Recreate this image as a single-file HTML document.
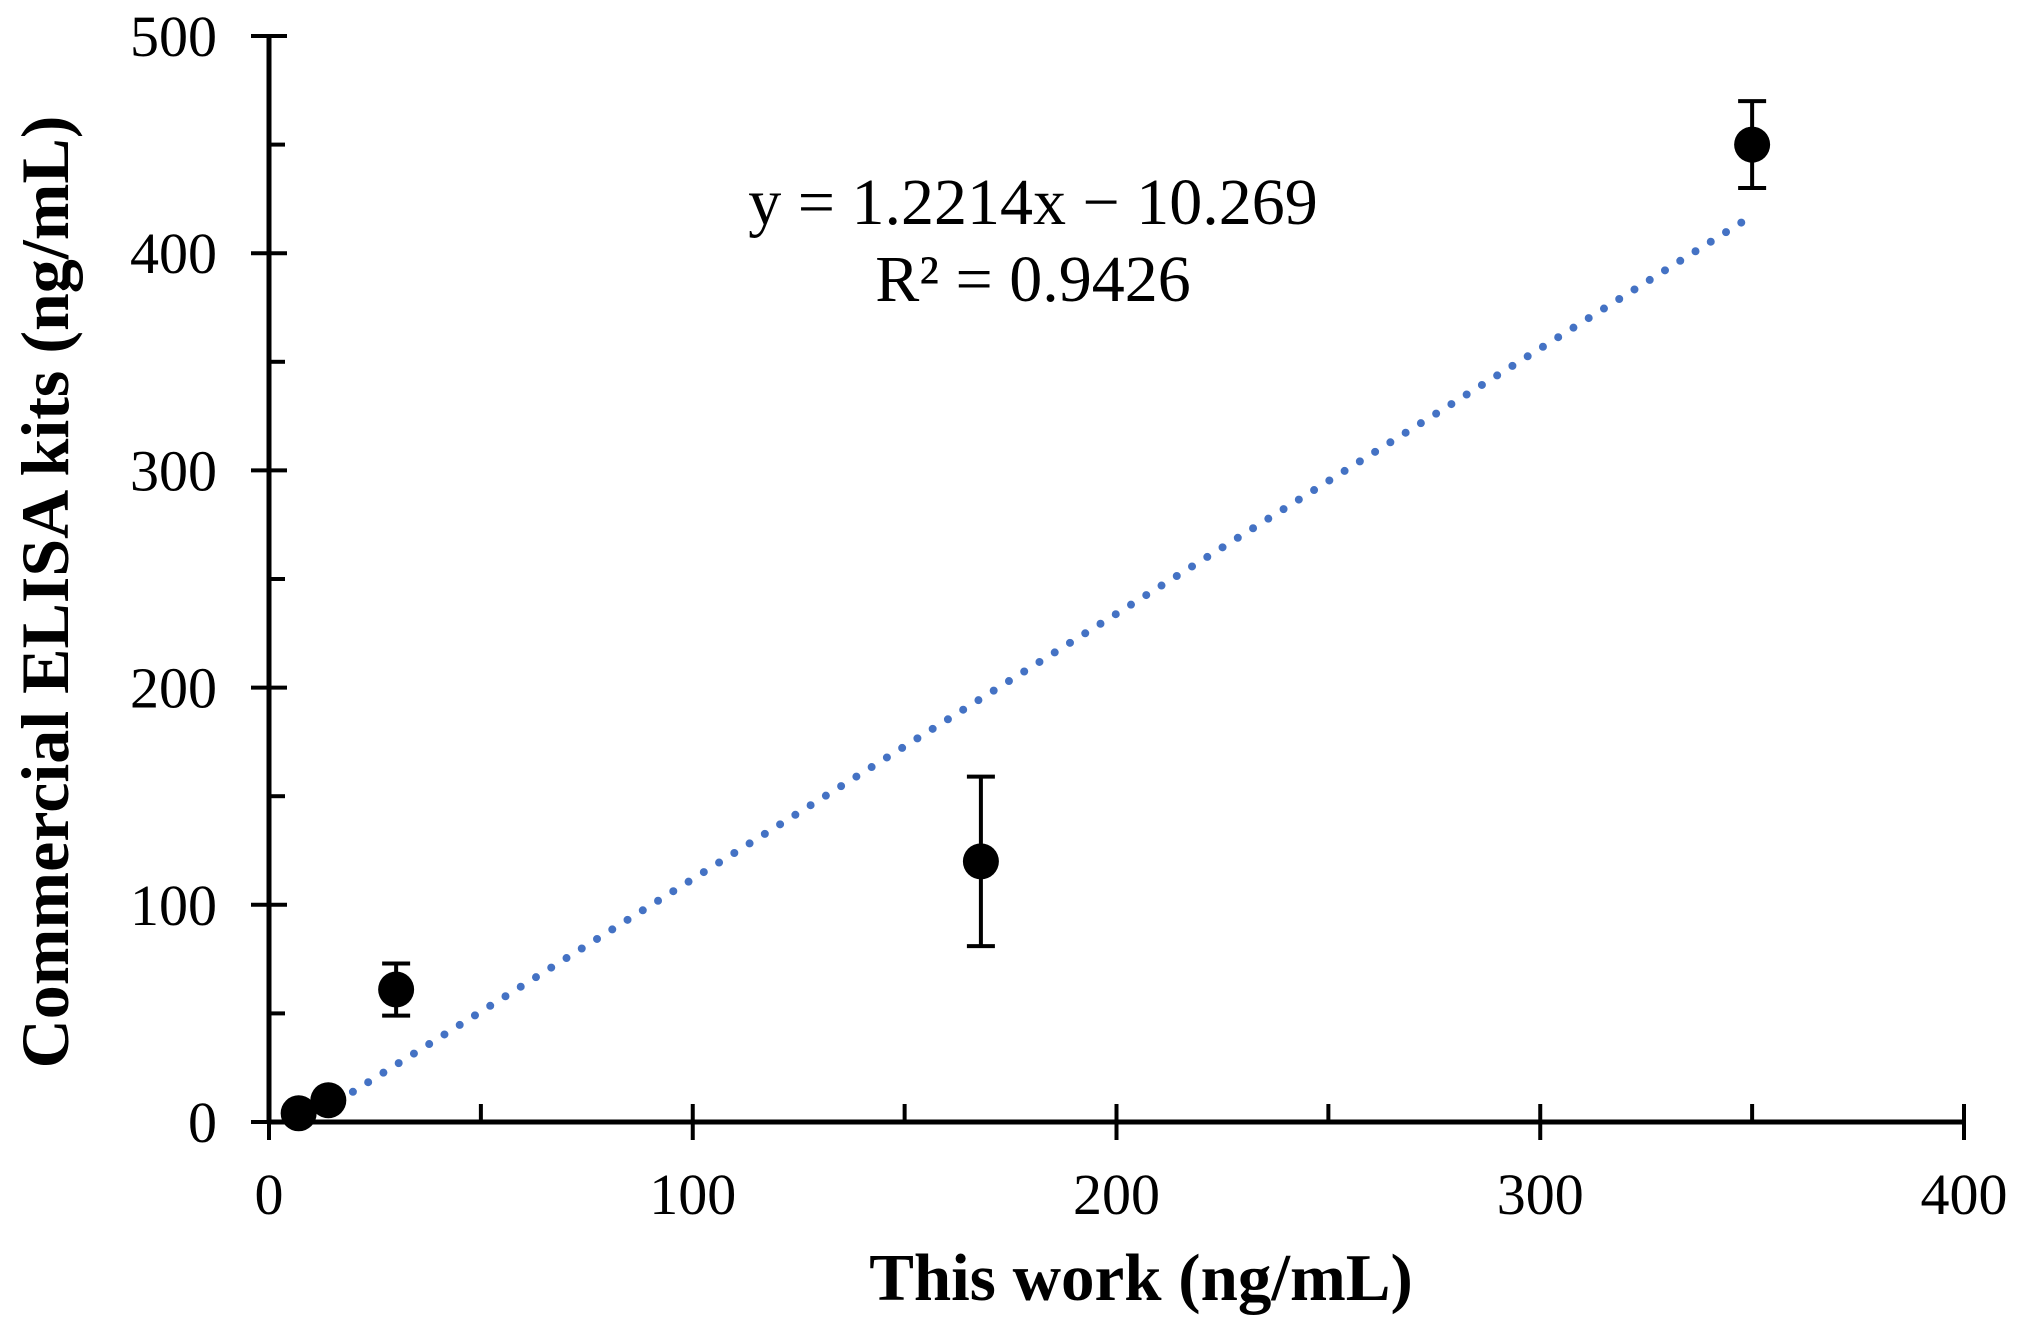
<!DOCTYPE html>
<html><head><meta charset="utf-8"><style>
html,body{margin:0;padding:0;background:#fff}
svg{display:block;font-family:"Liberation Serif",serif}
</style></head><body>
<svg width="2020" height="1326" viewBox="0 0 2020 1326">
<g id="plot"></g>
</svg>
<script>
const xTicks=[0,100,200,300,400];
const yTicks=[0,100,200,300,400,500];
const xs=[7,14,30,168,350];
const ys=[4,10,61,120,450];
const errs=[0,0,12,39,20];
const slope=[1.2214];
const intercept=[-10.269];
const fitRange=[9,350];
const X0=269,X1=1964,Y0=1122,Y1=36;
const sx=v=>X0+(v-0)/400*(X1-X0);
const sy=v=>Y0-(v-0)/500*(Y0-Y1);
const NS="http://www.w3.org/2000/svg";
const g=document.getElementById('plot');
function mk(t,a,txt){const e=document.createElementNS(NS,t);for(const k in a)e.setAttribute(k,a[k]);if(txt!==undefined)e.textContent=txt;g.appendChild(e);return e;}
let tl=mk('line',{x1:sx(fitRange[0]),y1:sy(slope[0]*fitRange[0]+intercept[0]),x2:sx(fitRange[1]),y2:sy(slope[0]*fitRange[1]+intercept[0]),stroke:'#4472C4','stroke-width':8,'stroke-linecap':'round','stroke-dasharray':'0 18'});


let ax=mk('line',{x1:X0,y1:Y0,x2:X1,y2:Y0,stroke:'#000','stroke-width':5});


let ay=mk('line',{x1:X0,y1:Y0+2,x2:X0,y2:Y1,stroke:'#000','stroke-width':5});


xTicks.forEach((v,i)=>{
 let t=mk('line',{x1:sx(v),y1:Y0-18,x2:sx(v),y2:Y0+18,stroke:'#000','stroke-width':4});
 
 
 let l=mk('text',{x:sx(v),y:Y0+92,'text-anchor':'middle','font-size':58},String(v));
 
 
 if(i<xTicks.length-1){let m=mk('line',{x1:sx(v+50),y1:Y0-18,x2:sx(v+50),y2:Y0,stroke:'#000','stroke-width':4});
 
 }
});
yTicks.forEach((v,i)=>{
 let t=mk('line',{x1:X0-18,y1:sy(v),x2:X0+18,y2:sy(v),stroke:'#000','stroke-width':4});
 
 
 let l=mk('text',{x:X0-52,y:sy(v)+20,'text-anchor':'end','font-size':58},String(v));
 
 
 if(i<yTicks.length-1){let m=mk('line',{x1:X0,y1:sy(v+50),x2:X0+16,y2:sy(v+50),stroke:'#000','stroke-width':4});
 
 }
});
xs.forEach((x,i)=>{
 if(errs[i]>0){
  let e=mk('path',{d:`M${sx(x)} ${sy(ys[i]-errs[i])}V${sy(ys[i]+errs[i])}M${sx(x)-14} ${sy(ys[i]-errs[i])}h28M${sx(x)-14} ${sy(ys[i]+errs[i])}h28`,stroke:'#000','stroke-width':4,fill:'none'});
  
  
 }
 let c=mk('circle',{cx:sx(x),cy:sy(ys[i]),r:18,fill:'#000'});
 
 
});
let eq=mk('text',{x:1033,y:224,'text-anchor':'middle','font-size':66},'y = 1.2214x − 10.269');


let r2=mk('text',{x:1033,y:301,'text-anchor':'middle','font-size':66},'R² = 0.9426');


let xt=mk('text',{x:1141,y:1300,'text-anchor':'middle','font-size':67,'font-weight':'bold'},'This work (ng/mL)');


let yt=mk('text',{x:0,y:0,'text-anchor':'middle','font-size':68,'font-weight':'bold',transform:'translate(68,592) rotate(-90)'},'Commercial ELISA kits (ng/mL)');


</script>
</body></html>
